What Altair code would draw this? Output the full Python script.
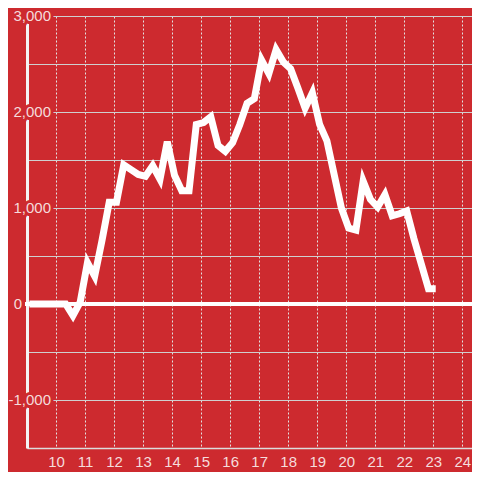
import altair as alt
import pandas as pd

RED = "#cd2a2f"
PALE = "#f5dcdc"

# time of day (decimal hours) and measured value
hours = [9.083, 9.333, 9.583, 9.833, 10.083, 10.333, 10.583, 10.833, 11.083, 11.333,
         11.583, 11.833, 12.083, 12.333, 12.583, 12.833, 13.083, 13.333, 13.583, 13.833,
         14.083, 14.333, 14.583, 14.833, 15.083, 15.333, 15.583, 15.833, 16.083, 16.333,
         16.583, 16.833, 17.083, 17.333, 17.583, 17.833, 18.083, 18.333, 18.583, 18.833,
         19.083, 19.333, 19.583, 19.833, 20.083, 20.333, 20.583, 20.833, 21.083, 21.333,
         21.583, 21.833, 22.083, 22.333, 22.583, 22.833, 23.083]
values = [0, 0, 0, 0, 0, 0, -120, 20, 430, 290,
          660, 1060, 1060, 1450, 1400, 1350, 1330, 1440, 1300, 1690,
          1340, 1180, 1180, 1870, 1890, 1950, 1650, 1590, 1680, 1870,
          2090, 2140, 2540, 2400, 2650, 2520, 2450, 2250, 2040, 2200,
          1870, 1700, 1350, 1000, 790, 770, 1280, 1090, 1010, 1140,
          920, 940, 970, 680, 420, 160, 160]

x_ticks = list(range(10, 25))
y_grid = [-1500, -1000, -500, 0, 500, 1000, 1500, 2000, 2500, 3000]
y_label_values = [3000, 2000, 1000, -1000]
y_label_texts = ["3,000", "2,000", "1,000", "-1,000"]
zero_value = [0]
zero_text = ["0"]

df = pd.DataFrame({"h": hours, "v": values})
df_lab = pd.DataFrame({"v": y_label_values, "t": y_label_texts})
df_zero = pd.DataFrame({"v": zero_value, "t": zero_text})

xs = alt.Scale(domain=[9, 24.333], nice=False, zero=False)
ys = alt.Scale(domain=[-1500, 3000], nice=False, zero=False)

line = alt.Chart(df).mark_line(color="white", strokeWidth=7, strokeJoin="miter").encode(
    x=alt.X("h:Q", scale=xs, axis=alt.Axis(
        values=x_ticks, title=None, grid=True, gridColor="#e2e2e2", gridDash=[2, 2],
        gridWidth=1, ticks=False, domainColor="#dcdcdc", domainWidth=1.5,
        labelColor=PALE, labelFontSize=15, labelFont="Liberation Sans", labelPadding=6,
        labelFlush=False, labelOverlap=False)),
    y=alt.Y("v:Q", scale=ys, axis=alt.Axis(
        values=y_grid, title=None, grid=True, gridColor="#cfcfcf", gridWidth=1.2,
        ticks=False, labels=False, domainColor="#f4f4f4", domainWidth=3)),
)

zero_rule = alt.Chart(df_zero).mark_rule(color="white", strokeWidth=4, strokeCap="square").encode(
    y=alt.Y("v:Q", scale=ys)
)

lab_outline = alt.Chart(df_lab).mark_text(
    align="right", baseline="middle", fontSize=15, font="Liberation Sans",
    fill=RED, stroke=RED, strokeWidth=6).encode(
    y=alt.Y("v:Q", scale=ys), x=alt.value(24), text="t:N")
lab_text = alt.Chart(df_lab).mark_text(
    align="right", baseline="middle", fontSize=15, font="Liberation Sans",
    color=PALE).encode(
    y=alt.Y("v:Q", scale=ys), x=alt.value(24), text="t:N")

zero_lab = alt.Chart(df_zero).mark_text(
    align="right", baseline="middle", fontSize=15, font="Liberation Sans",
    color=PALE).encode(
    y=alt.Y("v:Q", scale=ys), x=alt.value(-5), text="t:N")

chart = alt.layer(line, zero_rule, lab_outline, lab_text, zero_lab).properties(
    width=445, height=432,
    padding={"left": 19, "top": 8, "right": 0, "bottom": 24},
    autosize=alt.AutoSizeParams(type="none"),
    background=RED,
).configure_view(stroke=None)

chart.save("out.html", embed_options={"renderer": "svg", "actions": False})
